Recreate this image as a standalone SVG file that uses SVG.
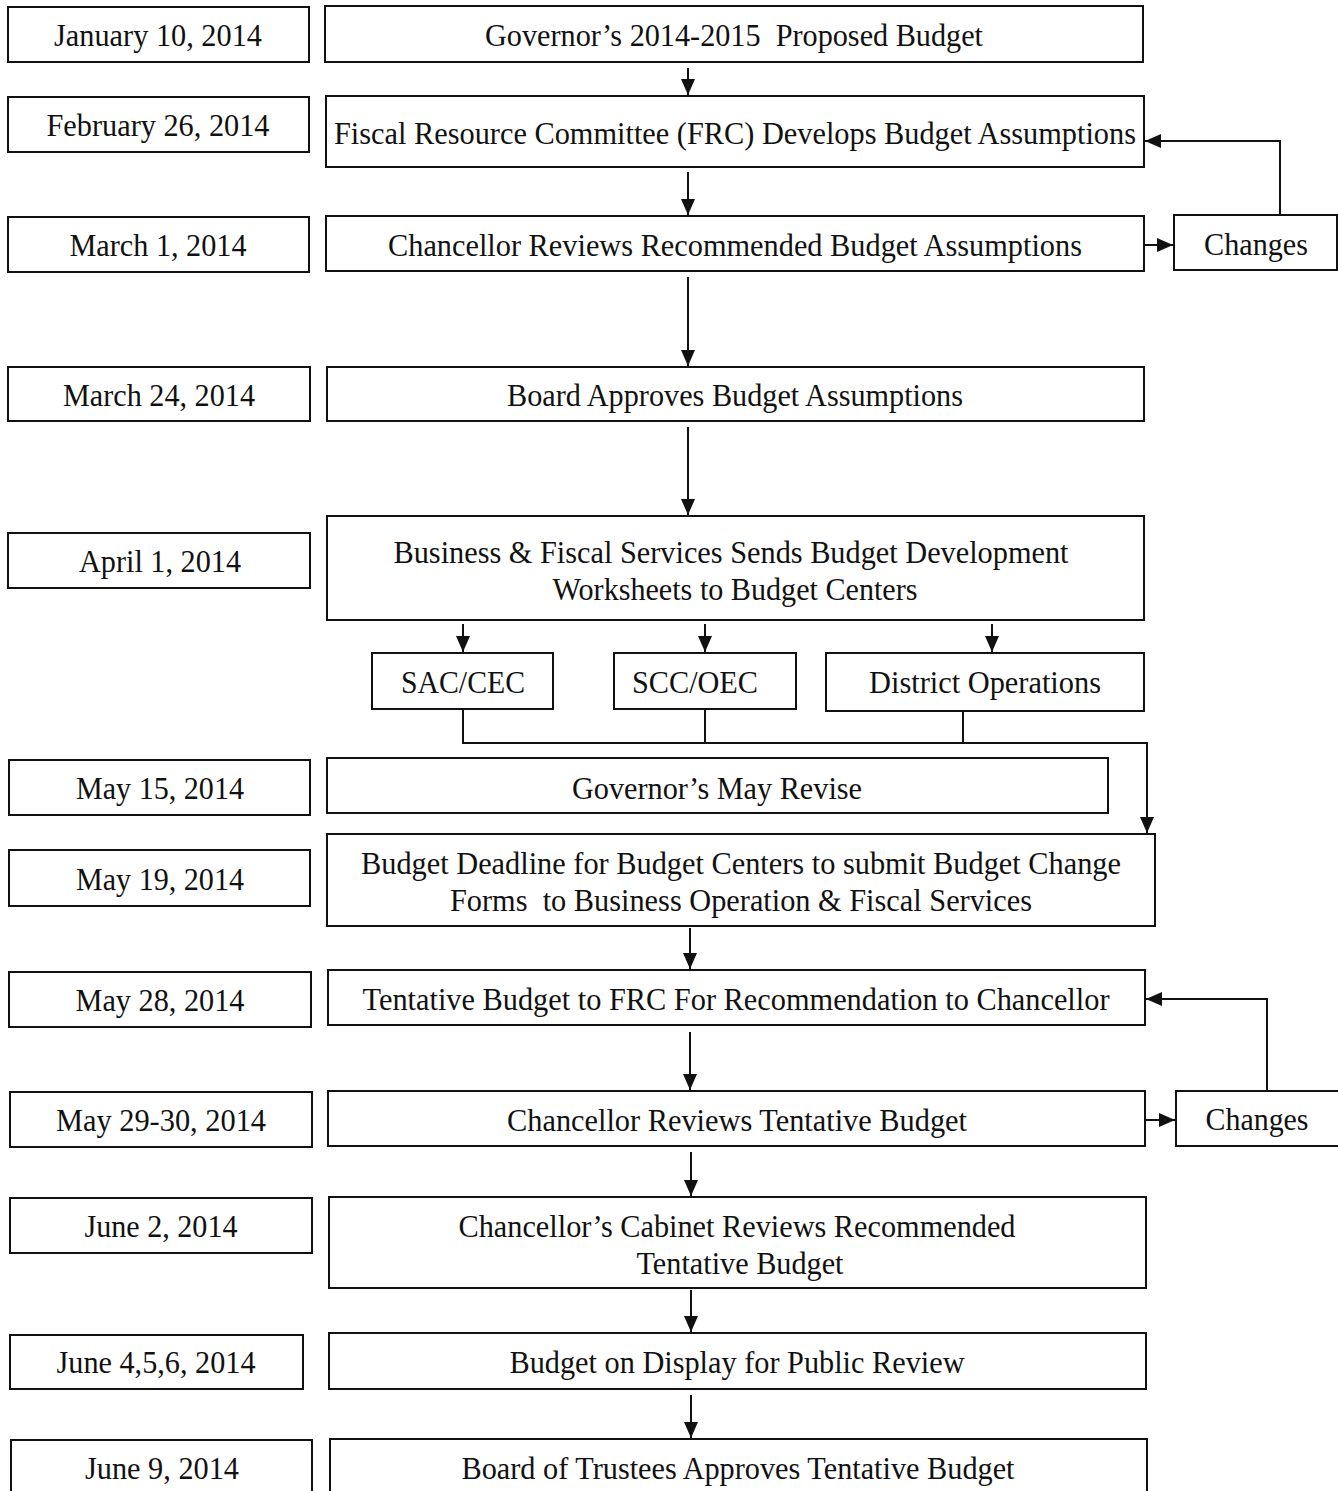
<svg xmlns="http://www.w3.org/2000/svg" width="1338" height="1491" viewBox="0 0 1338 1491">
<style>
rect{fill:#fff;stroke:#111;stroke-width:2}
text{font-family:"Liberation Serif","Times New Roman",serif;font-size:32px;fill:#111;text-anchor:middle}
.c{fill:none;stroke:#111;stroke-width:2}
</style>
<defs>
<marker id="a" markerUnits="userSpaceOnUse" markerWidth="18" markerHeight="16" refX="16" refY="7" orient="auto">
<path d="M0,0 L16,7 L0,14 Z" fill="#111"/>
</marker>
</defs>
<rect x="0" y="0" width="1338" height="1491" style="stroke:none"/>
<g id="dates">
<g id="d1"><rect x="8" y="7" width="301" height="55"/><text x="158" y="46" textLength="208" lengthAdjust="spacingAndGlyphs">January 10, 2014</text></g>
<g id="d2"><rect x="8" y="97" width="301" height="55"/><text x="158" y="136" textLength="223" lengthAdjust="spacingAndGlyphs">February 26, 2014</text></g>
<g id="d3"><rect x="8" y="217" width="301" height="55"/><text x="158" y="256" textLength="177" lengthAdjust="spacingAndGlyphs">March 1, 2014</text></g>
<g id="d4"><rect x="8" y="367" width="302" height="54"/><text x="159" y="406" textLength="192" lengthAdjust="spacingAndGlyphs">March 24, 2014</text></g>
<g id="d5"><rect x="8" y="533" width="302" height="55"/><text x="160" y="572" textLength="162" lengthAdjust="spacingAndGlyphs">April 1, 2014</text></g>
<g id="d6"><rect x="9" y="760" width="301" height="55"/><text x="160" y="799" textLength="168" lengthAdjust="spacingAndGlyphs">May 15, 2014</text></g>
<g id="d7"><rect x="9" y="850" width="301" height="56"/><text x="160" y="890" textLength="168" lengthAdjust="spacingAndGlyphs">May 19, 2014</text></g>
<g id="d8"><rect x="9" y="972" width="302" height="55"/><text x="160" y="1011" textLength="169" lengthAdjust="spacingAndGlyphs">May 28, 2014</text></g>
<g id="d9"><rect x="10" y="1092" width="302" height="55"/><text x="161" y="1131" textLength="210" lengthAdjust="spacingAndGlyphs">May 29-30, 2014</text></g>
<g id="d10"><rect x="10" y="1198" width="302" height="55"/><text x="161" y="1237" textLength="153" lengthAdjust="spacingAndGlyphs">June 2, 2014</text></g>
<g id="d11"><rect x="10" y="1335" width="293" height="54"/><text x="156" y="1373" textLength="199" lengthAdjust="spacingAndGlyphs">June 4,5,6, 2014</text></g>
<g id="d12"><rect x="11" y="1440" width="301" height="70"/><text x="162" y="1479" textLength="154" lengthAdjust="spacingAndGlyphs">June 9, 2014</text></g>
</g>
<g id="steps">
<g id="n1"><rect x="325" y="6" width="818" height="56"/><text x="734" y="46" textLength="498" lengthAdjust="spacingAndGlyphs" xml:space="preserve">Governor’s 2014-2015  Proposed Budget</text></g>
<g id="n2"><rect x="326" y="96" width="818" height="71"/><text x="735" y="144" textLength="802" lengthAdjust="spacingAndGlyphs">Fiscal Resource Committee (FRC) Develops Budget Assumptions</text></g>
<g id="n3"><rect x="326" y="216" width="818" height="55"/><text x="735" y="256" textLength="694" lengthAdjust="spacingAndGlyphs">Chancellor Reviews Recommended Budget Assumptions</text></g>
<g id="ch1"><rect x="1174" y="215" width="163" height="55"/><text x="1256" y="255" textLength="104" lengthAdjust="spacingAndGlyphs">Changes</text></g>
<g id="n4"><rect x="327" y="367" width="817" height="54"/><text x="735" y="406" textLength="456" lengthAdjust="spacingAndGlyphs">Board Approves Budget Assumptions</text></g>
<g id="n5"><rect x="327" y="516" width="817" height="104"/><text x="731" y="563" textLength="675" lengthAdjust="spacingAndGlyphs">Business &amp; Fiscal Services Sends Budget Development</text><text x="735" y="600" textLength="365" lengthAdjust="spacingAndGlyphs">Worksheets to Budget Centers</text></g>
<g id="sac"><rect x="372" y="653" width="181" height="56"/><text x="463" y="693" textLength="124" lengthAdjust="spacingAndGlyphs">SAC/CEC</text></g>
<g id="scc"><rect x="614" y="653" width="182" height="56"/><text x="695" y="693" textLength="126" lengthAdjust="spacingAndGlyphs">SCC/OEC</text></g>
<g id="dist"><rect x="826" y="653" width="318" height="58"/><text x="985" y="693" textLength="232" lengthAdjust="spacingAndGlyphs">District Operations</text></g>
<g id="n6"><rect x="327" y="758" width="781" height="55"/><text x="717" y="799" textLength="290" lengthAdjust="spacingAndGlyphs">Governor’s May Revise</text></g>
<g id="n7"><rect x="327" y="834" width="828" height="92"/><text x="741" y="874" textLength="760" lengthAdjust="spacingAndGlyphs">Budget Deadline for Budget Centers to submit Budget Change</text><text x="741" y="911" textLength="582" lengthAdjust="spacingAndGlyphs" xml:space="preserve">Forms  to Business Operation &amp; Fiscal Services</text></g>
<g id="n8"><rect x="328" y="970" width="817" height="55"/><text x="736" y="1010" textLength="747" lengthAdjust="spacingAndGlyphs">Tentative Budget to FRC For Recommendation to Chancellor</text></g>
<g id="n9"><rect x="328" y="1091" width="817" height="55"/><text x="737" y="1131" textLength="460" lengthAdjust="spacingAndGlyphs">Chancellor Reviews Tentative Budget</text></g>
<g id="ch2"><rect x="1176" y="1091" width="170" height="55"/><text x="1257" y="1130" textLength="103" lengthAdjust="spacingAndGlyphs">Changes</text></g>
<g id="n10"><rect x="329" y="1197" width="817" height="91"/><text x="737" y="1237" textLength="557" lengthAdjust="spacingAndGlyphs">Chancellor’s Cabinet Reviews Recommended</text><text x="740" y="1274" textLength="207" lengthAdjust="spacingAndGlyphs">Tentative Budget</text></g>
<g id="n11"><rect x="329" y="1333" width="817" height="56"/><text x="737" y="1373" textLength="455" lengthAdjust="spacingAndGlyphs">Budget on Display for Public Review</text></g>
<g id="n12"><rect x="330" y="1439" width="817" height="70"/><text x="738" y="1479" textLength="553" lengthAdjust="spacingAndGlyphs">Board of Trustees Approves Tentative Budget</text></g>
</g>
<g id="connectors">
<path class="c" d="M688,68 V95" marker-end="url(#a)"/>
<path class="c" d="M688,172 V215" marker-end="url(#a)"/>
<path class="c" d="M688,277 V366" marker-end="url(#a)"/>
<path class="c" d="M688,427 V515" marker-end="url(#a)"/>
<path class="c" d="M1145,245 H1173" marker-end="url(#a)"/>
<path class="c" d="M1280,215 V141 H1145" marker-end="url(#a)"/>
<path class="c" d="M463,624 V652" marker-end="url(#a)"/>
<path class="c" d="M705,624 V652" marker-end="url(#a)"/>
<path class="c" d="M992,624 V652" marker-end="url(#a)"/>
<path class="c" d="M463,709 V743 H1147 V833" marker-end="url(#a)"/>
<path class="c" d="M705,709 V743"/>
<path class="c" d="M963,711 V743"/>
<path class="c" d="M690,928 V969" marker-end="url(#a)"/>
<path class="c" d="M690,1032 V1090" marker-end="url(#a)"/>
<path class="c" d="M1146,1120 H1175" marker-end="url(#a)"/>
<path class="c" d="M1267,1091 V999 H1146" marker-end="url(#a)"/>
<path class="c" d="M691,1152 V1196" marker-end="url(#a)"/>
<path class="c" d="M691,1290 V1332" marker-end="url(#a)"/>
<path class="c" d="M691,1395 V1438" marker-end="url(#a)"/>
</g>
</svg>
